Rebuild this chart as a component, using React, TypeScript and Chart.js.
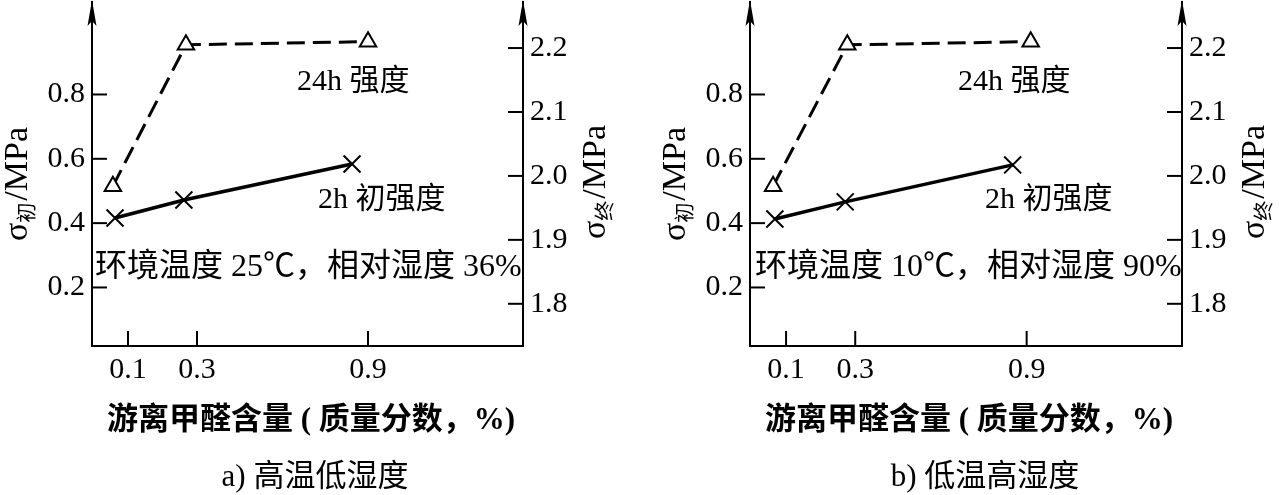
import React, { useEffect, useRef } from 'react';
import { Chart, LinearScale, registerables } from 'chart.js';

// ---------- data ----------
const X_TICKS = [0.1, 0.3, 0.9];
const X_TICK_LABELS = ['0.1', '0.3', '0.9'];
// the drawn x axis is not to scale: knot values and their fractional position along the axis
const X_KNOT_VALUES = [0, 0.1, 0.3, 0.9, 1.44];
const X_KNOT_FRACTIONS = [0, 0.0835, 0.2436, 0.6404, 1];

const LEFT_TICKS = [0.2, 0.4, 0.6, 0.8];
const LEFT_TICK_LABELS = ['0.2', '0.4', '0.6', '0.8'];
const RIGHT_TICKS = [1.8, 1.9, 2.0, 2.1, 2.2];
const RIGHT_TICK_LABELS = ['1.8', '1.9', '2.0', '2.1', '2.2'];
const LEFT_MIN = 0.018;
const LEFT_MAX = 1.0875;
const RIGHT_MIN = 1.734;
const RIGHT_MAX = 2.272;

// panel a) 高温低湿度
const A_X_24H = [0.058, 0.268, 0.9];
const A_Y_24H = [1.984, 2.205, 2.21];
const A_X_2H = [0.064, 0.262, 0.844];
const A_Y_2H = [0.416, 0.472, 0.584];
// panel b) 低温高湿度
const B_X_24H = [0.064, 0.277, 0.914];
const B_Y_24H = [1.984, 2.205, 2.21];
const B_X_2H = [0.069, 0.271, 0.851];
const B_Y_2H = [0.413, 0.466, 0.581];

const LABEL_24H = '24h 强度';
const LABEL_2H = '2h 初强度';
const ENV_A = '环境温度 25℃，相对湿度 36%';
const ENV_B = '环境温度 10℃，相对湿度 90%';
const X_TITLE = '游离甲醛含量 ( 质量分数，%)';
const CAPTION_A = 'a) 高温低湿度';
const CAPTION_B = 'b) 低温高湿度';
const LEFT_SUB = '初';
const RIGHT_SUB = '终';

// ---------- custom piecewise-linear x scale ----------
function interp(v: number, xs: number[], ys: number[]) {
  let i = 1;
  while (i < xs.length - 1 && v > xs[i]) i++;
  const t = (v - xs[i - 1]) / (xs[i] - xs[i - 1]);
  return ys[i - 1] + t * (ys[i] - ys[i - 1]);
}

class PiecewiseScale extends LinearScale {
  getPixelForValue(value: any) {
    if (value === null || value === undefined) return NaN;
    return super.getPixelForValue(interp(value, X_KNOT_VALUES, X_KNOT_FRACTIONS));
  }
  getValueForPixel(pixel: number) {
    return interp(super.getValueForPixel(pixel), X_KNOT_FRACTIONS, X_KNOT_VALUES);
  }
}
(PiecewiseScale as any).id = 'piecewise';
(PiecewiseScale as any).defaults = (LinearScale as any).defaults;

Chart.register(...registerables, PiecewiseScale as any);

const FONT_FAMILY = "'Liberation Serif', 'Noto Sans CJK SC'";
const H = 495;
const AXIS_BOTTOM = 346;
const AXIS_TOP = 2;

const PANELS = [
  {
    left: 0, width: 640, axisL: 92, axisR: 523,
    x24: A_X_24H, y24: A_Y_24H, x2: A_X_2H, y2: A_Y_2H,
    env: ENV_A, caption: CAPTION_A,
    t24: [297, 82], t2: [318, 200], tEnv: [95, 268], titleCx: 311, capCx: 315,
  },
  {
    left: 640, width: 639, axisL: 110, axisR: 542,
    x24: B_X_24H, y24: B_Y_24H, x2: B_X_2H, y2: B_Y_2H,
    env: ENV_B, caption: CAPTION_B,
    t24: [318, 82], t2: [345, 200], tEnv: [115, 268], titleCx: 329, capCx: 345,
  },
];

function drawAxisLabel(ctx: CanvasRenderingContext2D, baselineX: number, centerY: number, sub: string) {
  ctx.save();
  ctx.translate(baselineX, centerY);
  ctx.rotate(-Math.PI / 2);
  const main = `34px ${FONT_FAMILY}`;
  const subF = `20px 'Noto Sans CJK SC'`;
  ctx.font = main;
  const w1 = ctx.measureText('σ').width;
  ctx.font = subF;
  const w2 = ctx.measureText(sub).width;
  ctx.font = main;
  const w3 = ctx.measureText('/MPa').width;
  const total = w1 + w2 + 2 + w3;
  let x = -total / 2;
  ctx.fillStyle = '#000';
  ctx.textAlign = 'left';
  ctx.textBaseline = 'alphabetic';
  ctx.fillText('σ', x, 0);
  x += w1;
  ctx.font = subF;
  ctx.fillText(sub, x, 7);
  x += w2 + 2;
  ctx.font = main;
  ctx.fillText('/MPa', x, 0);
  ctx.restore();
}

function makeDecor(p: any) {
  return {
    id: 'decor',
    afterDraw(chart: any) {
      const ctx: CanvasRenderingContext2D = chart.ctx;
      const ca = chart.chartArea;
      const ys = chart.scales.y;
      const y2s = chart.scales.y2;
      const xs = chart.scales.x;
      ctx.save();
      ctx.strokeStyle = '#000';
      ctx.fillStyle = '#000';
      ctx.lineWidth = 2;
      const line = (x1: number, y1: number, x2: number, y2: number) => {
        ctx.beginPath();
        ctx.moveTo(x1, y1);
        ctx.lineTo(x2, y2);
        ctx.stroke();
      };
      ys.ticks.forEach((_: any, i: number) => {
        const py = ys.getPixelForTick(i);
        line(ca.left, py, ca.left + 15, py);
      });
      y2s.ticks.forEach((_: any, i: number) => {
        const py = y2s.getPixelForTick(i);
        line(ca.right - 15, py, ca.right, py);
      });
      xs.ticks.forEach((_: any, i: number) => {
        const px = xs.getPixelForTick(i);
        line(px, ca.bottom, px, ca.bottom - 15);
      });
      // arrows
      [ca.left, ca.right].forEach((ax: number) => {
        ctx.beginPath();
        ctx.moveTo(ax, 0);
        ctx.lineTo(ax + 4.5, 26);
        ctx.lineTo(ax, 21);
        ctx.lineTo(ax - 4.5, 26);
        ctx.closePath();
        ctx.fill();
      });
      // axis titles
      drawAxisLabel(ctx, ca.left - 65, 184, LEFT_SUB);
      drawAxisLabel(ctx, ca.right + 82, 182, RIGHT_SUB);
      // annotations
      ctx.textAlign = 'left';
      ctx.textBaseline = 'middle';
      ctx.font = `30px ${FONT_FAMILY}`;
      ctx.fillText(LABEL_24H, p.t24[0], p.t24[1]);
      ctx.fillText(LABEL_2H, p.t2[0], p.t2[1]);
      ctx.font = `32px ${FONT_FAMILY}`;
      ctx.fillText(p.env, p.tEnv[0], p.tEnv[1]);
      // x title and caption
      ctx.textAlign = 'center';
      ctx.font = `bold 31px ${FONT_FAMILY}`;
      ctx.fillText(X_TITLE, p.titleCx, 421);
      ctx.font = `31px ${FONT_FAMILY}`;
      ctx.fillText(p.caption, p.capCx, 478);
      ctx.restore();
    },
  };
}

function zeroPad(s: any) {
  s.paddingTop = 0;
  s.paddingBottom = 0;
  s.paddingLeft = 0;
  s.paddingRight = 0;
}

function Panel({ p }: { p: any }) {
  const ref = useRef<HTMLCanvasElement>(null);
  useEffect(() => {
    const canvas = ref.current!;
    const tickFont = { family: FONT_FAMILY, size: 30 };
    const chart = new Chart(canvas, {
      type: 'line',
      data: {
        datasets: [
          {
            label: LABEL_24H,
            yAxisID: 'y2',
            data: p.x24.map((x: number, i: number) => ({ x, y: p.y24[i] })),
            borderColor: '#000',
            borderWidth: 3,
            borderDash: [18, 8],
            pointStyle: 'triangle',
            pointRadius: 9.5,
            pointBorderWidth: 2,
            pointBackgroundColor: '#fff',
            pointBorderColor: '#000',
            tension: 0,
            clip: false as any,
          },
          {
            label: LABEL_2H,
            yAxisID: 'y',
            data: p.x2.map((x: number, i: number) => ({ x, y: p.y2[i] })),
            borderColor: '#000',
            borderWidth: 3.5,
            pointStyle: 'crossRot',
            pointRadius: 12,
            pointBorderWidth: 2,
            pointBorderColor: '#000',
            pointBackgroundColor: '#000',
            tension: 0,
            clip: false as any,
          },
        ],
      },
      options: {
        animation: false,
        responsive: false,
        layout: { autoPadding: false, padding: { top: AXIS_TOP, left: 0, right: 0, bottom: 0 } },
        plugins: { legend: { display: false }, tooltip: { enabled: false } },
        scales: {
          x: {
            type: 'piecewise' as any,
            min: 0,
            max: 1,
            bounds: 'data',
            afterBuildTicks: (s: any) => { s.ticks = X_TICKS.map((v) => ({ value: v })); },
            afterFit: (s: any) => { s.height = H - AXIS_BOTTOM; zeroPad(s); },
            ticks: {
              autoSkip: false,
              maxRotation: 0,
              padding: 6,
              color: '#000',
              font: tickFont,
              callback: (_v: any, i: number) => X_TICK_LABELS[i],
            },
            grid: { display: true, drawOnChartArea: false, drawTicks: false },
            border: { display: true, color: '#000', width: 2 },
          } as any,
          y: {
            type: 'linear',
            position: 'left',
            min: LEFT_MIN,
            max: LEFT_MAX,
            afterBuildTicks: (s: any) => { s.ticks = LEFT_TICKS.map((v) => ({ value: v })); },
            afterFit: (s: any) => { s.width = p.axisL; zeroPad(s); },
            ticks: {
              autoSkip: false,
              padding: 7,
              color: '#000',
              font: tickFont,
              callback: (_v: any, i: number) => LEFT_TICK_LABELS[i],
            },
            grid: { display: true, drawOnChartArea: false, drawTicks: false },
            border: { display: true, color: '#000', width: 2 },
          },
          y2: {
            type: 'linear',
            position: 'right',
            min: RIGHT_MIN,
            max: RIGHT_MAX,
            afterBuildTicks: (s: any) => { s.ticks = RIGHT_TICKS.map((v) => ({ value: v })); },
            afterFit: (s: any) => { s.width = p.width - p.axisR; zeroPad(s); },
            ticks: {
              autoSkip: false,
              padding: 7,
              color: '#000',
              font: tickFont,
              callback: (_v: any, i: number) => RIGHT_TICK_LABELS[i],
            },
            grid: { display: true, drawOnChartArea: false, drawTicks: false },
            border: { display: true, color: '#000', width: 2 },
          },
        },
      },
      plugins: [makeDecor(p)],
    } as any);
    return () => chart.destroy();
  }, [p]);
  return (
    <canvas
      ref={ref}
      width={p.width}
      height={H}
      style={{ position: 'absolute', left: p.left, top: 0, width: p.width, height: H }}
    />
  );
}

export default function App() {
  return (
    <div style={{ position: 'absolute', left: 0, top: 0, width: 1279, height: H, background: '#fff', overflow: 'hidden' }}>
      {PANELS.map((p, i) => (
        <Panel key={i} p={p} />
      ))}
    </div>
  );
}
